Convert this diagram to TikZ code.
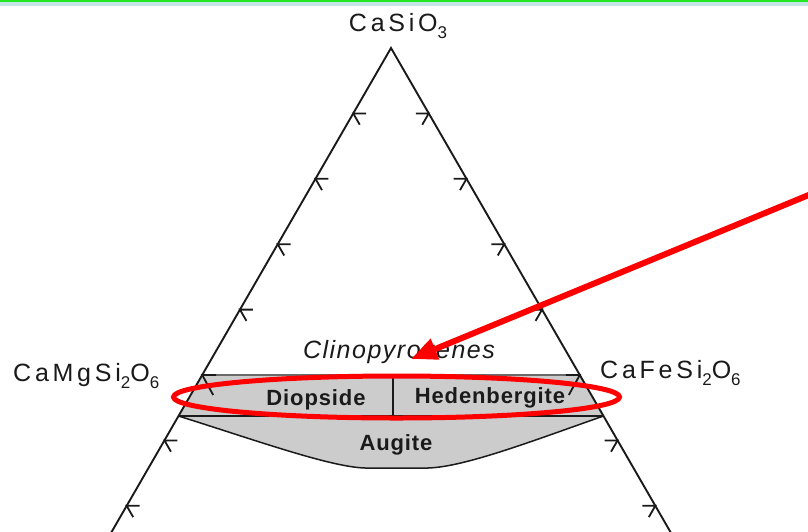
\documentclass[tikz,border=0pt]{standalone}
\usepackage{fontspec}
\setmainfont{Liberation Sans}
\usetikzlibrary{arrows.meta,calc}
\definecolor{bandgray}{HTML}{CCCCCC}
\definecolor{inkc}{HTML}{1A1A1A}
\definecolor{joingray}{HTML}{6A6A6A}
\definecolor{topgreen}{HTML}{22E622}
\definecolor{topband}{HTML}{C6E4E6}
\newcommand{\chemsub}[1]{\raisebox{-7.5pt}{\fontsize{17}{17}\selectfont #1}}
\begin{document}
\begin{tikzpicture}[x=1pt,y=-1pt,
  edgeline/.style={draw=inkc,line width=1.9pt,line cap=round},
  tickline/.style={draw=inkc,line width=1.8pt},
  fieldline/.style={draw=inkc,line width=1.5pt},
  formula/.style={text=inkc,inner sep=0pt,font=\fontsize{25}{29}\selectfont\addfontfeatures{LetterSpace=15}},
  fieldname/.style={text=inkc,inner sep=0pt,font=\fontsize{22}{26}\selectfont\bfseries\addfontfeatures{LetterSpace=4}},
  groupname/.style={text=inkc,inner sep=0pt,font=\fontsize{25}{29}\selectfont\itshape\addfontfeatures{LetterSpace=6}},
  redmark/.style={draw=red,line width=5pt}]
\useasboundingbox (0,0) rectangle (808,531);
\begin{scope}
\clip (0,0) rectangle (808,531);
% top strip
\fill[topgreen] (0,0) rectangle (808,2.2);
\fill[topband] (0,2.2) rectangle (808,6);
% coordinates
\coordinate (apex) at (391,48);
\coordinate (lbot) at (102.3,548);
\coordinate (rbot) at (679.7,548);
\coordinate (diL) at (202.2,375);
\coordinate (hdR) at (579.8,375);
\coordinate (bandL) at (178.5,416);
\coordinate (bandR) at (603.5,416);
\coordinate (divT) at (393,375);
\coordinate (divB) at (393,416);
% fields
\fill[bandgray] (diL) -- (hdR) -- (bandR) -- (bandL) -- cycle;
\fill[bandgray] (bandL) .. controls (255,440) and (330,467) .. (365,468) -- (428,468) .. controls (465,467) and (535,440) .. (bandR) -- cycle;
\draw[fieldline] (bandL) .. controls (255,440) and (330,467) .. (365,468) -- (428,468) .. controls (465,467) and (535,440) .. (bandR);
\draw[fieldline] (bandL) -- (bandR);
\draw[fieldline] (divT) -- (divB);
\draw[draw=joingray,line width=2.2pt] (diL) -- (hdR);
% triangle
\draw[edgeline] (lbot) -- (apex) -- (rbot);
% ticks
\foreach \k in {1,2,3,4,6,7}{
  \pgfmathsetmacro{\yy}{48+65.4*\k}
  \pgfmathsetmacro{\xl}{391-37.76*\k}
  \pgfmathsetmacro{\xr}{391+37.76*\k}
  \draw[tickline] (\xl+13,\yy) -- (\xl,\yy) -- ++(6.5,11.3);
  \draw[tickline] (\xr-13,\yy) -- (\xr,\yy) -- ++(-6.5,11.3);
}
\draw[tickline] ($(diL)+(14,0)$) -- (diL) -- ++(11,20);
\draw[tickline] ($(hdR)+(-14,0)$) -- (hdR) -- ++(-11,20);
% labels
\node[formula,anchor=base] (casio) at (398,31) {CaSiO\chemsub{3}};
\node[formula,anchor=base west] (camg) at (13,381) {CaMgSi\chemsub{2}O\chemsub{6}};
\node[formula,anchor=base west] (cafe) at (600,378) {CaFeSi\chemsub{2}O\chemsub{6}};
\node[groupname,anchor=base] (clino) at (399,358) {Clinopyroxenes};
\node[fieldname,anchor=base] (diop) at (316,405) {Diopside};
\node[fieldname,anchor=base] (heden) at (490,403) {Hedenbergite};
\node[fieldname,anchor=base] (aug) at (396,450) {Augite};
% red annotation
\draw[redmark] (396.5,397) ellipse [x radius=223pt, y radius=21pt];
\coordinate (arrS) at (816,192);
\coordinate (arrT) at (411,359);
\draw[draw=red,line width=6pt,-{Triangle[length=26pt,width=21pt]}] (arrS) -- (arrT);
\end{scope}
\end{tikzpicture}
\end{document}
